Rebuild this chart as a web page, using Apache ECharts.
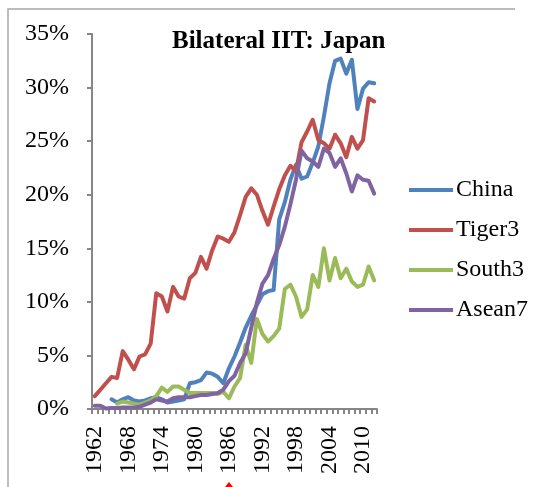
<!DOCTYPE html>
<html>
<head>
<meta charset="utf-8">
<script src="https://cdn.jsdelivr.net/npm/echarts@6/dist/echarts.min.js"></script>
<style>
  html, body { margin: 0; padding: 0; background: #fff; }
  #chart { width: 548px; height: 487px; }
</style>
</head>
<body>
<div id="chart"></div>
<script>
var years = ['1962','1963','1964','1965','1966','1967','1968','1969','1970','1971',
	'1972','1973','1974','1975','1976','1977','1978','1979','1980','1981',
	'1982','1983','1984','1985','1986','1987','1988','1989','1990','1991',
	'1992','1993','1994','1995','1996','1997','1998','1999','2000','2001',
	'2002','2003','2004','2005','2006','2007','2008','2009','2010','2011','2012'];

var seriesNames = ['China', 'Tiger3', 'South3', 'Asean7'];

// values in %
var china = [null, null, null, 0.9, 0.6, 0.9, 1.1, 0.8, 0.7, 0.8,
	1.0, 1.1, 0.9, 0.6, 0.7, 0.8, 0.9, 2.4, 2.5, 2.7,
	3.4, 3.3, 3.0, 2.4, 3.8, 4.9, 6.2, 7.6, 8.7, 9.7,
	10.7, 11.0, 11.1, 17.7, 19.3, 21.4, 22.8, 21.5, 21.7, 23.0,
	24.5, 27.3, 30.4, 32.5, 32.7, 31.3, 32.6, 28.0, 29.9, 30.5, 30.4];

var tiger3 = [1.2, 1.8, 2.4, 3.0, 2.9, 5.4, 4.6, 3.7, 4.9, 5.1,
	6.1, 10.8, 10.5, 9.1, 11.4, 10.5, 10.3, 12.2, 12.7, 14.2,
	13.1, 14.8, 16.1, 15.9, 15.6, 16.5, 18.1, 19.8, 20.6, 20.0,
	18.5, 17.2, 18.9, 20.5, 21.8, 22.7, 22.2, 24.9, 25.9, 27.0,
	25.1, 24.8, 24.3, 25.6, 24.8, 23.5, 25.4, 24.3, 25.1, 29.0, 28.7];

var south3 = [null, null, null, null, 0.5, 0.7, 0.6, 0.5, 0.4, 0.6,
	0.8, 1.2, 2.0, 1.6, 2.1, 2.1, 1.8, 1.5, 1.5, 1.5,
	1.5, 1.5, 1.4, 1.6, 1.0, 2.1, 2.9, 6.0, 4.3, 8.4,
	7.0, 6.3, 6.8, 7.5, 11.2, 11.6, 10.5, 8.6, 9.3, 12.5,
	11.4, 15.0, 12.0, 14.1, 12.2, 13.1, 11.9, 11.4, 11.6, 13.3, 12.0];

var asean7 = [0.3, 0.3, 0.05, 0.1, 0.1, 0.15, 0.15, 0.15, 0.2, 0.4,
	0.6, 0.9, 0.8, 0.7, 1.0, 1.1, 1.1, 1.1, 1.2, 1.3,
	1.3, 1.4, 1.5, 1.8, 2.6, 3.1, 4.3, 5.2, 7.6, 9.9,
	11.7, 12.5, 14.0, 15.3, 17.0, 19.1, 21.4, 24.1, 23.4, 23.1,
	22.6, 24.3, 23.9, 22.6, 23.4, 22.0, 20.3, 21.8, 21.4, 21.3, 20.1];

var colors = ['#4F81BD', '#C0504D', '#9BBB59', '#8064A2'];
var serif = 'Liberation Serif';

function makeLine(name, data, color) {
	return {
		name : name,
		type : 'line',
		data : data,
		symbol : 'none',
		smooth : false,
		connectNulls : false,
		lineStyle : {
			width : 4,
			color : color,
			cap : 'round',
			join : 'round'
		},
		itemStyle : { color : color }
	};
}

var chart = echarts.init(document.getElementById('chart'));
var option = {
	backgroundColor : '#fff',
	animation : false,
	title : {
		text : 'Bilateral IIT: Japan',
		left : 172,
		top : 29,
		padding : 0,
		textStyle : {
			fontFamily : serif,
			fontWeight : 'bold',
			fontSize : 25,
			color : '#000'
		}
	},
	legend : {
		orient : 'vertical',
		left : 409,
		top : 178,
		padding : 0,
		itemGap : 16,
		itemWidth : 44,
		itemHeight : 4,
		icon : 'rect',
		data : seriesNames,
		textStyle : {
			fontFamily : serif,
			fontSize : 24,
			color : '#000',
			padding : [0, 0, 0, -2]
		}
	},
	grid : {
		left : 92,
		top : 34,
		right : 171,
		bottom : 78
	},
	xAxis : {
		type : 'category',
		data : years,
		boundaryGap : true,
		axisLine : { show : true, lineStyle : { color : '#868686', width : 2 } },
		axisTick : { show : true, interval : 0, length : 5, lineStyle : { color : '#868686', width : 2 } },
		axisLabel : {
			interval : 5,
			rotate : 90,
			margin : 17,
			fontFamily : serif,
			fontSize : 24,
			color : '#000'
		},
		splitLine : { show : false }
	},
	yAxis : {
		type : 'value',
		min : 0,
		max : 35,
		interval : 5,
		axisLine : { show : true, lineStyle : { color : '#868686', width : 2 } },
		axisTick : { show : true, length : 5, lineStyle : { color : '#868686', width : 2 } },
		axisLabel : {
			formatter : '{value}%',
			margin : 23,
			fontFamily : serif,
			fontSize : 24,
			color : '#000'
		},
		splitLine : { show : false }
	},
	series : [
		makeLine(seriesNames[0], china, colors[0]),
		makeLine(seriesNames[1], tiger3, colors[1]),
		makeLine(seriesNames[2], south3, colors[2]),
		makeLine(seriesNames[3], asean7, colors[3])
	],
	graphic : [
		{
			type : 'polyline',
			shape : { points : [[515, 9], [8, 9], [8, 487]] },
			style : { stroke : '#a6a6a6', lineWidth : 1.5, fill : null },
			silent : true
		},
		{
			type : 'polygon',
			shape : { points : [[225, 487], [229, 482], [233, 487]] },
			style : { fill : '#ff0000' },
			silent : true
		}
	]
};

chart.setOption(option);
</script>
</body>
</html>
